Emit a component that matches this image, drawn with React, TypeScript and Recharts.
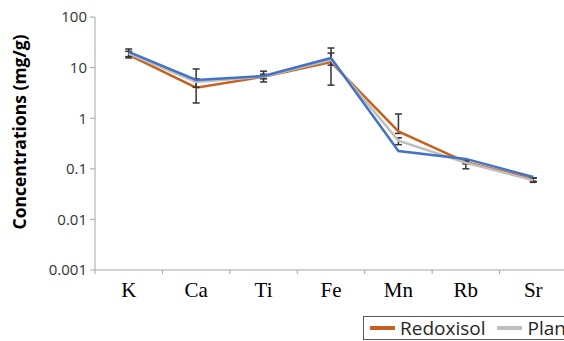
import { LineChart, Line, XAxis, YAxis, ErrorBar, Legend, Label } from "recharts";

const elements = ["K", "Ca", "Ti", "Fe", "Mn", "Rb", "Sr"];
const redoxisol = [17.8, 4.0, 6.6, 12.9, 0.55, 0.136, 0.062];
const plant = [19.0, 5.2, 6.6, 14.2, 0.36, 0.132, 0.059];
const soil = [20.5, 5.7, 6.8, 15.5, 0.225, 0.157, 0.069];

// error ranges (low / high)
const redoxisolLow = [15.5, 2.0, 5.2, 4.5, 0.5, 0.125, 0.057];
const redoxisolHigh = [21.0, 9.4, 8.5, 24.4, 1.21, 0.145, 0.066];
const plantLow = [16.5, 4.1, 6.0, 11.2, 0.3, 0.1, 0.054];
const plantHigh = [23.3, 6.0, 7.4, 19.4, 0.41, 0.14, 0.066];

const yTicks = [0.001, 0.01, 0.1, 1, 10, 100];

const data = elements.map((el, i) => ({
  el,
  redoxisol: redoxisol[i],
  plant: plant[i],
  soil: soil[i],
  errR: [redoxisol[i] - redoxisolLow[i], redoxisolHigh[i] - redoxisol[i]],
  errP: [plant[i] - plantLow[i], plantHigh[i] - plant[i]],
}));

const ORANGE = "#C8611F";
const GREY = "#BFBFBF";
const BLUE = "#4472C4";
const AXIS = "#A6A6A6";
const BAND = 472 / elements.length;

const XTick = (props: any) => {
  const { x, y, payload, index } = props;
  return (
    <g>
      <line x1={x - BAND / 2} x2={x - BAND / 2} y1={y - 8} y2={y - 4} stroke={AXIS} />
      {index === elements.length - 1 && (
        <line x1={x + BAND / 2} x2={x + BAND / 2} y1={y - 8} y2={y - 4} stroke={AXIS} />
      )}
      <text x={x} y={y + 19} textAnchor="middle" fontFamily="Liberation Serif" fontSize={21} fill="#000">
        {payload.value}
      </text>
    </g>
  );
};

const LegendBox = () => (
  <div
    style={{
      display: "flex",
      alignItems: "center",
      border: "1px solid #595959",
      height: 22,
      padding: "0 6px",
      fontFamily: "Open Sans",
      fontSize: 19,
      color: "#262626",
      whiteSpace: "nowrap",
      background: "#fff",
    }}
  >
    {[
      ["Redoxisol", ORANGE],
      ["Plant", GREY],
      ["Soil", BLUE],
    ].map(([name, color]) => (
      <span key={name} style={{ display: "flex", alignItems: "center", marginRight: 12 }}>
        <span style={{ display: "inline-block", width: 25, height: 4, background: color, marginRight: 5 }} />
        {name}
      </span>
    ))}
  </div>
);

export default function App() {
  return (
    <div style={{ position: "absolute", left: 0, top: 0, width: 564, height: 341, overflow: "hidden", background: "#fff" }}>
      <LineChart width={640} height={341} data={data} margin={{ top: 17, right: 73, bottom: 41, left: 0 }}>
        <XAxis
          dataKey="el"
          scale="band"
          stroke={AXIS}
          tickLine={false}
          tick={<XTick />}
          height={30}
          interval={0}
        />
        <YAxis
          scale="log"
          domain={[0.001, 100]}
          ticks={yTicks}
          allowDataOverflow
          width={95}
          stroke={AXIS}
          tickSize={5}
          tickMargin={3}
          tickFormatter={(v: number) => String(v)}
          tick={{ fill: "#333", fontSize: 15, fontFamily: "Open Sans" }}
        >
          <Label
            content={() => (
              <text
                x={19}
                y={132}
                transform="rotate(-90, 19, 132)"
                textAnchor="middle"
                dominantBaseline="central"
                fontFamily="Open Sans"
                fontWeight="bold"
                fontSize={17.5}
                fill="#000"
              >
                Concentrations (mg/g)
              </text>
            )}
          />
        </YAxis>
        <Legend
          layout="vertical"
          align="center"
          verticalAlign="middle"
          content={<LegendBox />}
          wrapperStyle={{ left: 363, top: 316, width: 320 }}
        />
        <Line dataKey="redoxisol" name="Redoxisol" stroke={ORANGE} strokeWidth={2.5} dot={false} isAnimationActive={false}>
          <ErrorBar dataKey="errR" direction="y" width={3.5} stroke="#333" strokeWidth={1.5} />
        </Line>
        <Line dataKey="plant" name="Plant" stroke={GREY} strokeWidth={2.5} dot={false} isAnimationActive={false}>
          <ErrorBar dataKey="errP" direction="y" width={3.5} stroke="#333" strokeWidth={1.5} />
        </Line>
        <Line dataKey="soil" name="Soil" stroke={BLUE} strokeWidth={2.5} dot={false} isAnimationActive={false} />
      </LineChart>
    </div>
  );
}
